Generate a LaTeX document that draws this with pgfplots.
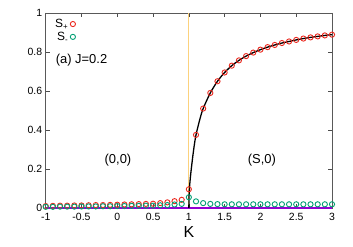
\documentclass[border=0pt]{standalone}
\usepackage{fontspec}
\setmainfont{Liberation Sans}
\usepackage{pgfplots}
\pgfplotsset{compat=1.18}
\definecolor{gred}{RGB}{235,40,30}
\definecolor{ggreen}{RGB}{0,158,115}
\definecolor{gpurple}{RGB}{148,0,211}
\definecolor{gorange}{RGB}{252,210,125}
\begin{document}
\begin{tikzpicture}
\path[use as bounding box] (-45.7bp,-39bp) rectangle (307.3bp,208bp);
\begin{axis}[
  at={(0,0)}, anchor=south west,
  scale only axis, width=286.3bp, height=195bp,
  xmin=-1, xmax=3, ymin=0, ymax=1,
  xtick={-1,-0.5,0,0.5,1,1.5,2,2.5,3},
  xticklabels={-1,-0.5,0,0.5,1,1.5,2,2.5,3},
  ytick={0,0.2,0.4,0.6,0.8,1},
  yticklabels={0,0.2,0.4,0.6,0.8,1},
  tick align=inside, tick style={gray!60!black, line width=0.5pt},
  major tick length=4bp,
  axis line style={gray!70!black, line width=0.6pt},
  tick label style={font=\fontsize{10.5}{12}\selectfont},
  xticklabel style={yshift=-2bp},
  xlabel={K}, xlabel style={font=\fontsize{16}{17}\selectfont, yshift=1bp},
  clip=false,
  legend style={at={(0.015,0.99)}, anchor=north west, draw=none, fill=none,
    legend plot pos=right, cells={anchor=east}, row sep=-1pt,
    font=\fontsize{12}{12.5}\selectfont},
]
\addplot[gorange, line width=1pt, forget plot] coordinates {(1,0) (1,1)};
\addplot[gpurple, line width=1.2pt, forget plot] coordinates {(-1,0) (3,0)};
\addplot[black, line width=1.3pt, smooth, forget plot] coordinates {
(1,0) (1.003,0.06) (1.01,0.11) (1.025,0.17) (1.05,0.25) (1.075,0.32) (1.1,0.375) (1.15,0.45) (1.2,0.51) (1.3,0.59) (1.4,0.65) (1.5,0.695) (1.6,0.73) (1.7,0.757) (1.8,0.779) (1.9,0.797) (2.0,0.812) (2.1,0.825) (2.2,0.836) (2.3,0.846) (2.4,0.854) (2.5,0.862) (2.6,0.869) (2.7,0.875) (2.8,0.88) (2.9,0.885) (3.0,0.889)};
\addplot[only marks, mark=o, mark size=2.6bp, gred, mark options={line width=0.9pt}] coordinates {
(-1,0.01) (-0.9,0.011) (-0.8,0.012) (-0.7,0.012) (-0.6,0.013) (-0.5,0.013) (-0.4,0.014) (-0.3,0.015) (-0.2,0.015) (-0.1,0.016) (0,0.017) (0.1,0.018) (0.2,0.019) (0.3,0.02) (0.4,0.021) (0.5,0.022) (0.6,0.025) (0.7,0.029) (0.8,0.035) (0.9,0.042) (1.0,0.096)
(1.1,0.375) (1.2,0.51) (1.3,0.59) (1.4,0.65) (1.5,0.695) (1.6,0.73) (1.7,0.757) (1.8,0.779) (1.9,0.797) (2.0,0.812) (2.1,0.825) (2.2,0.836) (2.3,0.846) (2.4,0.854) (2.5,0.862) (2.6,0.869) (2.7,0.875) (2.8,0.88) (2.9,0.885) (3.0,0.889)};
\addlegendentry{S\textsubscript{+}}
\addplot[only marks, mark=o, mark size=2.6bp, ggreen, mark options={line width=0.9pt}] coordinates {
(-1,0.006) (-0.9,0.006) (-0.8,0.007) (-0.7,0.007) (-0.6,0.007) (-0.5,0.008) (-0.4,0.008) (-0.3,0.008) (-0.2,0.009) (-0.1,0.009) (0,0.01) (0.1,0.01) (0.2,0.011) (0.3,0.011) (0.4,0.012) (0.5,0.012) (0.6,0.014) (0.7,0.015) (0.8,0.018) (0.9,0.021) (1.0,0.055)
(1.1,0.034) (1.2,0.025) (1.3,0.021) (1.4,0.02) (1.5,0.019) (1.6,0.019) (1.7,0.019) (1.8,0.019) (1.9,0.019) (2.0,0.019) (2.1,0.019) (2.2,0.019) (2.3,0.019) (2.4,0.019) (2.5,0.019) (2.6,0.019) (2.7,0.019) (2.8,0.019) (2.9,0.019) (3.0,0.019)};
\addlegendentry{S\textsubscript{-}}
\node[font=\fontsize{13}{14}\selectfont] at (axis cs:-0.5,0.76) {(a) J=0.2};
\node[font=\fontsize{13}{14}\selectfont] at (axis cs:0.01,0.247) {(0,0)};
\node[font=\fontsize{13}{14}\selectfont] at (axis cs:2.02,0.247) {(S,0)};
\end{axis}
\end{tikzpicture}
\end{document}
